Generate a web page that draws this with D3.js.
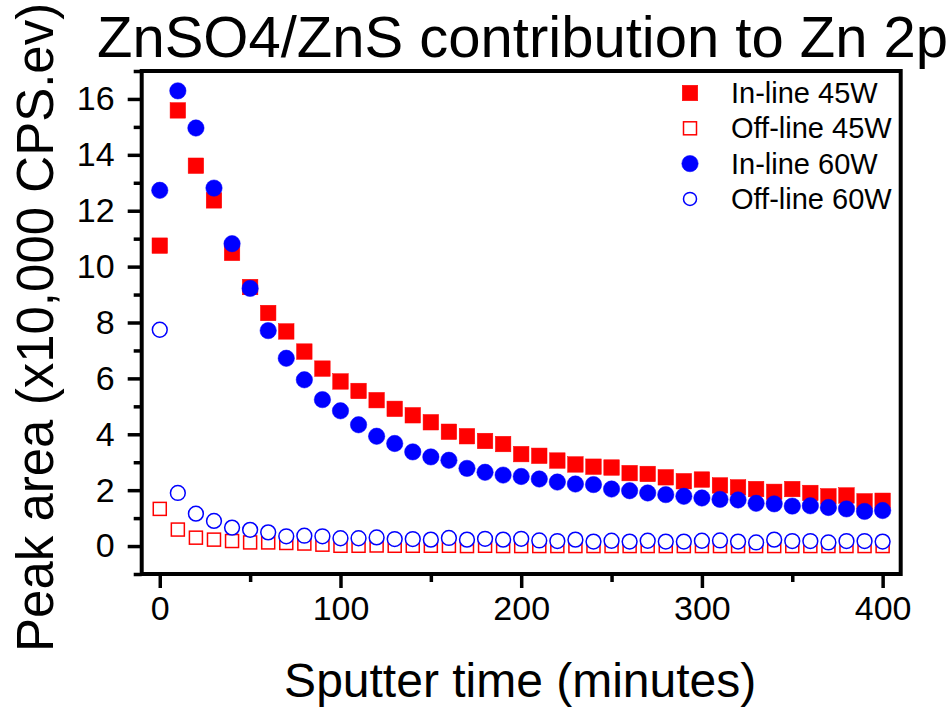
<!DOCTYPE html>
<html>
<head>
<meta charset="utf-8">
<script src="https://cdn.jsdelivr.net/npm/d3@7"></script>
<style>
  html, body { margin: 0; padding: 0; background: #fff; }
  svg { display: block; font-family: "Liberation Sans", Arial, sans-serif; }
</style>
</head>
<body>
<svg id="chart" width="948" height="708"></svg>
<script>
const minutes = [0,10,20,30,40,50,60,70,80,90,100,110,120,130,140,150,160,170,180,190,200,
  210,220,230,240,250,260,270,280,290,300,310,320,330,340,350,360,370,380,390,400];
const inline45 = [10.75,15.59,13.61,12.37,10.49,9.27,8.34,7.68,6.96,6.35,5.89,5.55,5.22,4.91,4.68,4.43,4.09,3.93,3.76,3.65,3.29,
  3.23,3.06,2.92,2.84,2.81,2.61,2.58,2.46,2.32,2.38,2.17,2.10,2.04,1.94,2.04,1.90,1.78,1.81,1.60,1.62];
const offline45 = [1.33,0.59,0.30,0.23,0.18,0.13,0.13,0.11,0.09,0.05,0.01,0.01,0.02,0.01,0.01,0.01,0.01,0.00,0.01,0.00,0.00,
  0.00,0.00,0.00,0.00,0.00,0.00,0.00,0.00,0.00,0.00,0.00,0.00,0.00,0.00,0.00,0.00,0.00,0.00,0.00,0.00];
const inline60 = [12.73,16.29,14.96,12.81,10.82,9.22,7.71,6.72,5.95,5.24,4.84,4.34,3.93,3.67,3.37,3.19,3.07,2.78,2.64,2.54,2.49,
  2.40,2.29,2.22,2.20,2.04,1.98,1.90,1.84,1.78,1.72,1.67,1.65,1.53,1.51,1.43,1.44,1.38,1.33,1.24,1.27];
const offline60 = [7.74,1.90,1.16,0.90,0.66,0.58,0.49,0.35,0.37,0.35,0.28,0.28,0.31,0.25,0.25,0.23,0.29,0.23,0.26,0.23,0.26,
  0.20,0.18,0.23,0.16,0.19,0.16,0.19,0.16,0.16,0.19,0.20,0.16,0.13,0.23,0.18,0.18,0.13,0.18,0.18,0.16];

const seriesNames = ["In-line 45W", "Off-line 45W", "In-line 60W", "Off-line 60W"];
const xTicks = [0,100,200,300,400];
const xMinor = [50,150,250,350];
const yTicks = [0,2,4,6,8,10,12,14,16];
const yMinor = [-1,1,3,5,7,9,11,13,15,17];
const titleText = "ZnSO4/ZnS contribution to Zn 2p";
const xTitle = "Sputter time (minutes)";
const yTitle = "Peak area (x10,000 CPS.ev)";

const RED = "#ff0000", BLUE = "#0000ff";
const series = [
  {name: seriesNames[0], values: inline45, shape: "square", filled: true, color: RED},
  {name: seriesNames[1], values: offline45, shape: "square", filled: false, color: RED},
  {name: seriesNames[2], values: inline60, shape: "circle", filled: true, color: BLUE},
  {name: seriesNames[3], values: offline60, shape: "circle", filled: false, color: BLUE}
];

const L = 141.7, R = 900.7, T = 71, B = 574;
const svg = d3.select("#chart");
const x = d3.scaleLinear().domain([-10, 410]).range([L, R]);
const y = d3.scaleLinear().domain([-1, 17]).range([B, T]);

// title
svg.append("text").attr("x", 97).attr("y", 57)
  .attr("font-size", 58).attr("fill", "#000").text(titleText);

// markers
function drawMarker(g, s, cx, cy, legend) {
  if (s.shape === "square") {
    const side = s.filled ? 15.5 : 13;
    g.append("rect").attr("x", cx - side/2).attr("y", cy - side/2)
      .attr("width", side).attr("height", side)
      .attr("fill", s.filled ? s.color : "#fff")
      .attr("stroke", s.color).attr("stroke-width", s.filled ? 0.5 : 1.5);
  } else {
    const r = s.filled ? 8.2 : 7.4;
    g.append("circle").attr("cx", cx).attr("cy", cy).attr("r", legend && !s.filled ? 6.5 : r)
      .attr("fill", s.filled ? s.color : "#fff")
      .attr("stroke", s.color).attr("stroke-width", s.filled ? 0.5 : 1.5);
  }
}

const plot = svg.append("g");
series.forEach(s => {
  const g = plot.append("g");
  s.values.forEach((v, i) => drawMarker(g, s, x(minutes[i]), y(v), false));
});

// axes
const ax = svg.append("g").attr("transform", `translate(0,${B})`)
  .call(d3.axisBottom(x).tickValues(xTicks).tickSize(14).tickSizeOuter(0).tickPadding(8).tickFormat(d3.format("d")));
const axm = svg.append("g").attr("transform", `translate(0,${B})`)
  .call(d3.axisBottom(x).tickValues(xMinor).tickSize(8).tickSizeOuter(0).tickFormat(""));
const ay = svg.append("g").attr("transform", `translate(${L},0)`)
  .call(d3.axisLeft(y).tickValues(yTicks).tickSize(14).tickSizeOuter(0).tickPadding(13).tickFormat(d3.format("d")));
const aym = svg.append("g").attr("transform", `translate(${L},0)`)
  .call(d3.axisLeft(y).tickValues(yMinor).tickSize(8).tickSizeOuter(0).tickFormat(""));
[ax, axm, ay, aym].forEach(a => {
  a.select(".domain").remove();
  a.selectAll(".tick line").attr("stroke", "#000").attr("stroke-width", 3.5);
  a.selectAll(".tick text").attr("font-size", 34).attr("fill", "#000")
    .attr("font-family", '"Liberation Sans", Arial, sans-serif');
});

// frame
svg.append("rect").attr("x", L).attr("y", T).attr("width", R - L).attr("height", B - T)
  .attr("fill", "none").attr("stroke", "#000").attr("stroke-width", 4);

// axis titles
svg.append("text").attr("x", (L + R) / 2 - 1).attr("y", 697).attr("text-anchor", "middle")
  .attr("font-size", 48).attr("fill", "#000").text(xTitle);
svg.append("text").attr("transform", `translate(53,652) rotate(-90)`).attr("text-anchor", "start")
  .attr("font-size", 51).attr("fill", "#000").text(yTitle);

// legend
const lg = svg.append("g");
series.forEach((s, i) => {
  const cy = 93 + i * 35.3;
  drawMarker(lg, s, 690, cy, true);
  lg.append("text").attr("x", 731).attr("y", cy + 10).attr("font-size", 29)
    .attr("fill", "#000").text(s.name);
});
</script>
</body>
</html>
